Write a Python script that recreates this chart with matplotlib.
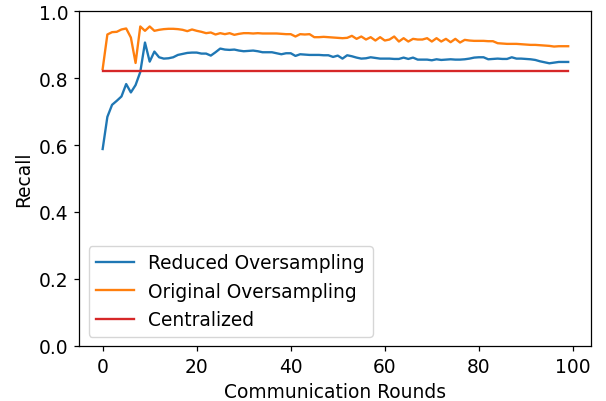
import matplotlib
matplotlib.use("Agg")
import matplotlib.pyplot as plt
import numpy as np

rounds = list(range(100))

reduced_oversampling = [
    0.588, 0.684, 0.720, 0.732, 0.745, 0.782, 0.757, 0.779, 0.818, 0.906,
    0.849, 0.879, 0.862, 0.858, 0.859, 0.862, 0.869, 0.872, 0.875, 0.876,
    0.876, 0.873, 0.873, 0.867, 0.877, 0.888, 0.885, 0.884, 0.885, 0.882,
    0.880, 0.881, 0.882, 0.880, 0.877, 0.877, 0.877, 0.874, 0.871, 0.874,
    0.874, 0.866, 0.871, 0.870, 0.869, 0.869, 0.869, 0.868, 0.868, 0.863,
    0.867, 0.858, 0.868, 0.865, 0.861, 0.858, 0.859, 0.862, 0.860, 0.858,
    0.858, 0.858, 0.857, 0.857, 0.861, 0.857, 0.861, 0.855, 0.855, 0.855,
    0.853, 0.856, 0.854, 0.855, 0.856, 0.855, 0.855, 0.856, 0.858, 0.861,
    0.862, 0.862, 0.856, 0.857, 0.858, 0.857, 0.857, 0.862, 0.858, 0.858,
    0.857, 0.856, 0.854, 0.850, 0.847, 0.844, 0.846, 0.848, 0.848, 0.848,
]

original_oversampling = [
    0.827, 0.930, 0.937, 0.938, 0.945, 0.948, 0.921, 0.845, 0.954, 0.941,
    0.954, 0.941, 0.944, 0.946, 0.947, 0.947, 0.946, 0.944, 0.940, 0.945,
    0.941, 0.938, 0.934, 0.936, 0.930, 0.934, 0.931, 0.934, 0.929, 0.932,
    0.934, 0.934, 0.933, 0.934, 0.933, 0.933, 0.933, 0.933, 0.932, 0.931,
    0.931, 0.924, 0.931, 0.930, 0.931, 0.922, 0.922, 0.923, 0.922, 0.921,
    0.920, 0.919, 0.920, 0.926, 0.917, 0.924, 0.915, 0.922, 0.912, 0.922,
    0.912, 0.915, 0.924, 0.909, 0.919, 0.909, 0.917, 0.915, 0.915, 0.919,
    0.909, 0.919, 0.909, 0.917, 0.907, 0.917, 0.906, 0.914, 0.912, 0.911,
    0.911, 0.911, 0.910, 0.910, 0.904, 0.903, 0.902, 0.902, 0.902, 0.901,
    0.900, 0.899, 0.899, 0.898, 0.897, 0.896, 0.894, 0.895, 0.895, 0.895,
]

centralized_value = 0.821
centralized = [centralized_value] * len(rounds)

labels = ["Reduced Oversampling", "Original Oversampling", "Centralized"]

s = 1.12
fs = 12 * s
fig = plt.figure(figsize=(6.06, 4.02), dpi=100)
ax = fig.add_axes([0.131, 0.137, 0.845, 0.833])

ax.plot(rounds, reduced_oversampling, color="#1f77b4", lw=1.5 * s, label=labels[0])
ax.plot(rounds, original_oversampling, color="#ff7f0e", lw=1.5 * s, label=labels[1])
ax.plot(rounds, centralized, color="#d62728", lw=1.5 * s, label=labels[2])

ax.set_ylim(0.0, 1.0)
ax.set_xticks([0, 20, 40, 60, 80, 100])
ax.set_yticks([0.0, 0.2, 0.4, 0.6, 0.8, 1.0])
ax.tick_params(labelsize=fs, length=3.5 * s, width=0.8 * s, pad=3.5 * s)
for sp in ax.spines.values():
    sp.set_linewidth(0.8 * s)
ax.set_xlabel("Communication Rounds", fontsize=fs, labelpad=4 * s)
ax.set_ylabel("Recall", fontsize=fs, labelpad=4 * s)
ax.legend(loc="lower left", fontsize=fs)

fig.savefig("out.png", dpi=100)
